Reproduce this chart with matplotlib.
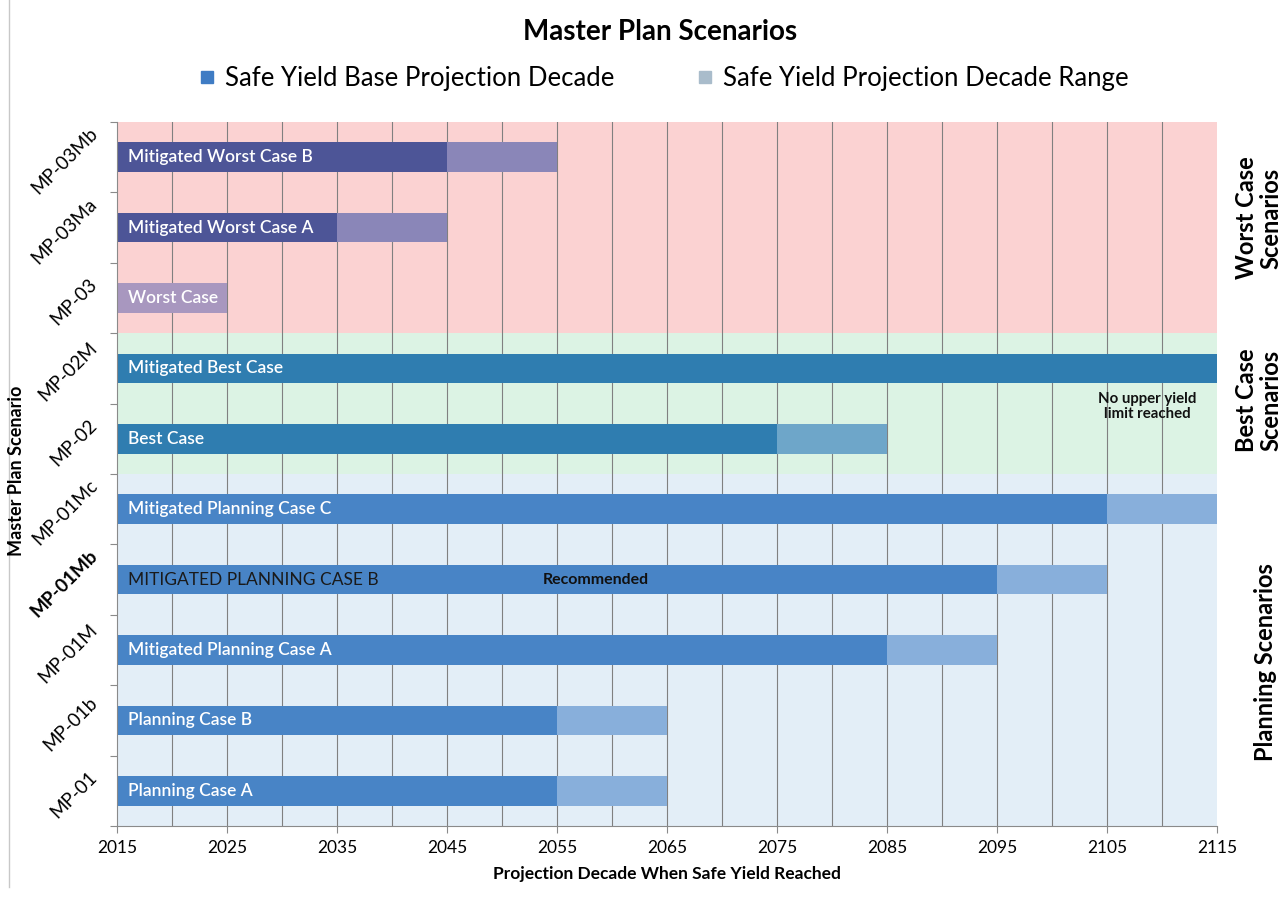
import numpy as np
import matplotlib.pyplot as plt
from matplotlib.lines import Line2D

plt.rcParams['font.family'] = ['Lato', 'DejaVu Sans']

# scenario data (bottom to top)
codes = ['MP-01', 'MP-01b', 'MP-01M', 'MP-01Mb', 'MP-01Mc',
         'MP-02', 'MP-02M', 'MP-03', 'MP-03Ma', 'MP-03Mb']
names = ['Planning Case A', 'Planning Case B', 'Mitigated Planning Case A',
         'MITIGATED PLANNING CASE B', 'Mitigated Planning Case C',
         'Best Case', 'Mitigated Best Case', 'Worst Case',
         'Mitigated Worst Case A', 'Mitigated Worst Case B']
base_decade = [2055, 2055, 2085, 2095, 2105, 2075, 2115, 2015, 2035, 2045]
upper_decade = [2065, 2065, 2095, 2105, 2115, 2085, 2115, 2025, 2045, 2055]
group = ['plan'] * 5 + ['best'] * 2 + ['worst'] * 3

start_year = 2015
end_year = 2115
x_ticks = list(range(2015, 2116, 10))

bar_colors = {'plan': '#4884c6', 'best': '#2f7db0', 'worst': '#4d5597'}
range_colors = {'plan': '#88afdb', 'best': '#6ea6c9', 'worst': '#8a86b8'}
band_colors = {'plan': '#e3eef7', 'best': '#dcf3e4', 'worst': '#fbd2d2'}

fig = plt.figure(figsize=(12.87, 9.01), dpi=100)
ax = fig.add_axes([0.0909, 0.0832, 0.8547, 0.7814])

n = len(codes)
y = np.arange(n)
ax.set_xlim(start_year, end_year)
ax.set_ylim(-0.5, n - 0.5)

# background bands for each group
for g, lo, hi in [('plan', -0.5, 4.5), ('best', 4.5, 6.5), ('worst', 6.5, 9.5)]:
    ax.axhspan(lo, hi, color=band_colors[g], zorder=0, lw=0)

# vertical grid every 5 years
for yr in range(2020, 2115, 5):
    ax.axvline(yr, color='#808080', lw=0.8, zorder=1)

bh = 0.42
for i in range(n):
    g = group[i]
    if codes[i] == 'MP-03':
        ax.barh(y[i], upper_decade[i] - start_year, left=start_year, height=bh,
                color='#a897bf', zorder=2)
    else:
        ax.barh(y[i], base_decade[i] - start_year, left=start_year, height=bh,
                color=bar_colors[g], zorder=2)
        if upper_decade[i] > base_decade[i]:
            ax.barh(y[i], upper_decade[i] - base_decade[i], left=base_decade[i],
                    height=bh, color=range_colors[g], zorder=2)
    if codes[i] == 'MP-01Mb':
        ax.text(start_year + 1.0, y[i], names[i], color='#1a1a1a', fontsize=12.5,
                va='center', ha='left', zorder=3)
    else:
        ax.text(start_year + 1.0, y[i], names[i], color='white', fontsize=12.5,
                fontweight='semibold', va='center', ha='left', zorder=3)

ax.text(2058.5, 3, 'Recommended', fontsize=11.5, fontweight='bold',
        va='center', ha='center', color='#111111', zorder=3)
ax.text(2108.7, 5.46, 'No upper yield\nlimit reached', fontsize=10.8, fontweight='bold',
        va='center', ha='center', color='#111111', zorder=3, linespacing=1.15)

# axes styling
for s in ['top', 'right']:
    ax.spines[s].set_visible(False)
ax.spines['left'].set_color('#8a8a8a')
ax.spines['bottom'].set_color('#8a8a8a')
ax.set_xticks(x_ticks)
ax.set_xticklabels([str(t) for t in x_ticks], fontsize=12.5)
ax.tick_params(axis='x', length=5, color='#8a8a8a', pad=5)
ax.set_yticks(np.arange(-0.5, n, 1.0))
ax.set_yticklabels([])
ax.tick_params(axis='y', length=5, color='#8a8a8a')
for i in range(n):
    ax.text(-0.015, y[i] - 0.05, codes[i], transform=ax.get_yaxis_transform(),
            rotation=45, ha='right', va='center', fontsize=13.5,
            fontweight='bold' if codes[i] == 'MP-01Mb' else 'normal')

ax.set_xlabel('Projection Decade When Safe Yield Reached', fontsize=12.5,
              fontweight='bold', labelpad=7)
fig.text(0.013, 0.478, 'Master Plan Scenario', rotation=90, fontsize=13,
         fontweight='bold', ha='center', va='center')

# group labels on the right
fig.text(0.978, 0.758, 'Worst Case\nScenarios', rotation=90, fontsize=17,
         fontweight='bold', ha='center', va='center', linespacing=1.05)
fig.text(0.978, 0.556, 'Best Case\nScenarios', rotation=90, fontsize=17,
         fontweight='bold', ha='center', va='center', linespacing=1.05)
fig.text(0.983, 0.265, 'Planning Scenarios', rotation=90, fontsize=17,
         fontweight='bold', ha='center', va='center')

fig.text(0.513, 0.964, 'Master Plan Scenarios', fontsize=20, fontweight='bold',
         ha='center', va='center')

handles = [Line2D([], [], marker='s', ls='', markersize=8, color='#3f7cc4'),
           Line2D([], [], marker='s', ls='', markersize=8, color='#a9bccb')]
fig.legend(handles, ['Safe Yield Base Projection Decade', 'Safe Yield Projection Decade Range'],
           loc='center', bbox_to_anchor=(0.516, 0.913), ncol=2, frameon=False,
           fontsize=18.5, handlelength=0.6, handletextpad=0.4, columnspacing=3.2)

fig.add_artist(Line2D([0.007, 0.007], [0.015, 1.0], color='#c8c8c8', lw=1))

plt.savefig('out.png', dpi=100)
